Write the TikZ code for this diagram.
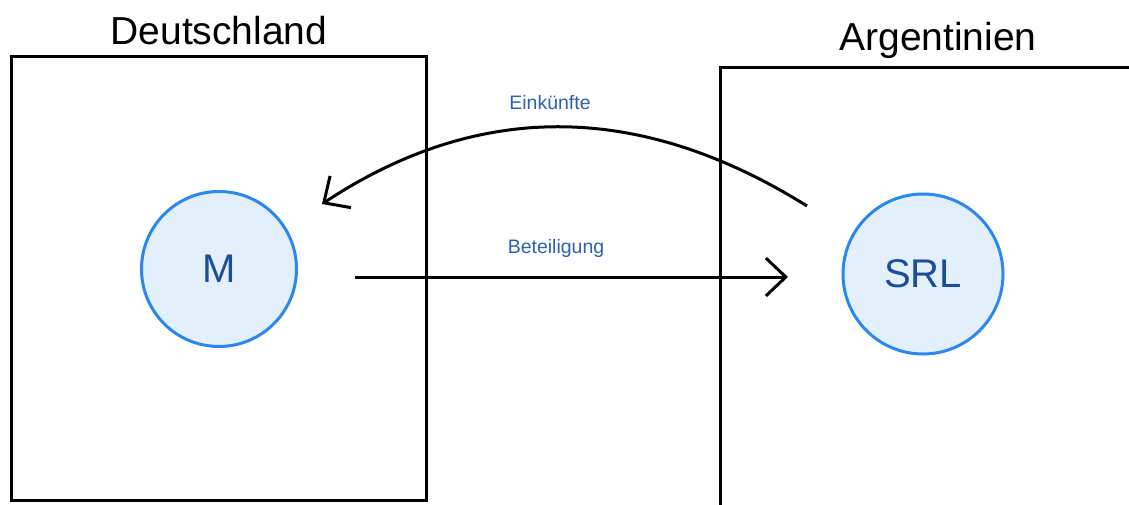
\documentclass[tikz,border=0pt]{standalone}
\usepackage{fontspec}
\setmainfont{Liberation Sans}
\usetikzlibrary{arrows.meta}
\definecolor{circstroke}{HTML}{2B88F0}
\definecolor{circfill}{HTML}{E4EFFC}
\definecolor{circtext}{HTML}{1B4E9A}
\definecolor{labtext}{HTML}{2D62AE}
\tikzset{
  country/.style={draw=black, line width=3pt, minimum width=#1, inner sep=0pt},
  title/.style={font=\fontsize{39}{43}\selectfont, text=black, anchor=base, inner sep=0pt},
  party/.style={circle, draw=circstroke, fill=circfill, line width=3pt, text=circtext,
    font=\fontsize{40}{44}\selectfont, inner sep=0pt},
  flow/.style={line width=3pt, -{Straight Barb[length=20pt, width=38pt, line width=3pt]}},
  flowlabel/.style={text=labtext, font=\fontsize{19.5}{22}\selectfont, inner sep=0pt}
}
\begin{document}
\begin{tikzpicture}[x=1pt, y=-1pt]
\useasboundingbox (0,0) rectangle (1129,504);
\fill[white] (0,0) rectangle (1129,504);
% country boxes
\node[country=415pt, minimum height=444pt] (de) at (219,278) {};
\node[country=420pt, minimum height=460pt] (ar) at (930,297) {};
\node[title] (detitle) at (219,44) {Deutschland};
\node[title] (artitle) at (938,50) {Argentinien};
% parties
\node[party, minimum size=155pt] (m) at (219,269) {M};
\node[party, minimum size=160pt] (srl) at (923,274) {SRL};
% connector end points
\coordinate (bstart) at (355,277);
\coordinate (bend) at (788,277);
\coordinate (estart) at (807,206);
\coordinate (eend) at (322,204);
\draw[flow] (bstart) -- (bend);
\draw[flow] (estart) .. controls (639,101) and (478,101) .. (eend);
\node[flowlabel] (beteil) at (556,248) {Beteiligung};
\node[flowlabel] (eink) at (550,103) {Einkünfte};
\end{tikzpicture}
\end{document}
